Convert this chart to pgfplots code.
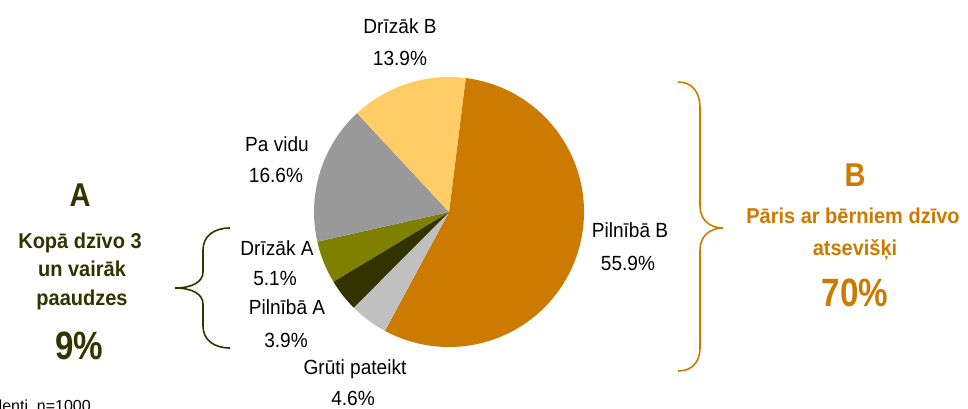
\documentclass[border=0pt]{standalone}
\usepackage{pgfplots}
\pgfplotsset{compat=1.18}
\usepackage{pgfplotstable}
\usepackage{fontspec}
\setmainfont{Liberation Sans}
\usepackage{graphicx}

\definecolor{cPB}{HTML}{CC7A00}
\definecolor{cGP}{HTML}{C0C0C0}
\definecolor{cPA}{HTML}{333300}
\definecolor{cDA}{HTML}{808000}
\definecolor{cPV}{HTML}{999999}
\definecolor{cDB}{HTML}{FFCC66}

% slices clockwise from the top, starting angle 82.9 deg
\pgfplotstableread{
value color
55.9 cPB
4.6 cGP
3.9 cPA
5.1 cDA
16.6 cPV
13.9 cDB
}\piedata

\newcommand\txreg[1]{\scalebox{0.93}[1]{\fontsize{20.5}{24}\selectfont #1}}
\newcommand\txbld[1]{\scalebox{0.93}[1]{\fontsize{21.5}{25}\selectfont\bfseries #1}}
\newcommand\txbig[1]{\scalebox{0.88}[1]{\fontsize{33}{38}\selectfont\bfseries #1}}
\newcommand\txhuge[1]{\scalebox{0.84}[1]{\fontsize{39.5}{45}\selectfont\bfseries #1}}

\begin{document}
\begin{tikzpicture}
\path[use as bounding box] (0,0) rectangle (968pt,408pt);
\begin{axis}[at={(0,0)}, anchor=south west, scale only axis,
  width=968pt, height=408pt, xmin=0, xmax=968, ymin=0, ymax=408,
  hide axis, clip=false]
\def\curangle{82.9}
\pgfplotsforeachungrouped \i in {0,...,5}{%
  \pgfplotstablegetelem{\i}{value}\of\piedata \let\val\pgfplotsretval
  \pgfplotstablegetelem{\i}{color}\of\piedata \let\col\pgfplotsretval
  \pgfmathsetmacro\endangle{\curangle-3.6*\val}%
  \edef\temp{\noexpand\fill[\col] (axis cs:449,196) -- ++(\curangle:135pt) arc[start angle=\curangle, end angle=\endangle, radius=135pt] -- cycle;}%
  \temp
  \global\let\curangle\endangle
}

% slice labels
\node[anchor=base, inner sep=0] at (axis cs:400,374.5) {\txreg{Drīzāk B}};
\node[anchor=base, inner sep=0] at (axis cs:400,342) {\txreg{13.9\%}};
\node[anchor=base, inner sep=0] at (axis cs:277,256.5) {\txreg{Pa vidu}};
\node[anchor=base, inner sep=0] at (axis cs:276,225.5) {\txreg{16.6\%}};
\node[anchor=base, inner sep=0] at (axis cs:277,153) {\txreg{Drīzāk A}};
\node[anchor=base, inner sep=0] at (axis cs:275,123) {\txreg{5.1\%}};
\node[anchor=base, inner sep=0] at (axis cs:287,93.7) {\txreg{Pilnībā A}};
\node[anchor=base, inner sep=0] at (axis cs:286,60.3) {\txreg{3.9\%}};
\node[anchor=base, inner sep=0] at (axis cs:355,34) {\txreg{Grūti pateikt}};
\node[anchor=base, inner sep=0] at (axis cs:353,3) {\txreg{4.6\%}};
\node[anchor=base, inner sep=0] at (axis cs:630,170.3) {\txreg{Pilnībā B}};
\node[anchor=base, inner sep=0] at (axis cs:628,138) {\txreg{55.9\%}};

% group A
\node[anchor=base, inner sep=0, text=cPA] at (axis cs:80,201.3) {\txbig{A}};
\node[anchor=base, inner sep=0, text=cPA] at (axis cs:80,160) {\txbld{Kopā dzīvo 3}};
\node[anchor=base, inner sep=0, text=cPA] at (axis cs:82,131.3) {\txbld{un vairāk}};
\node[anchor=base, inner sep=0, text=cPA] at (axis cs:82,102.3) {\txbld{paaudzes}};
\node[anchor=base, inner sep=0, text=cPA] at (axis cs:79,49) {\txhuge{9\%}};
\draw[cPA, line width=1.6pt] (axis cs:230,180) .. controls (axis cs:214,180) and (axis cs:203,172) .. (axis cs:203,158)
  -- (axis cs:203,136) .. controls (axis cs:203,126) and (axis cs:192,120) .. (axis cs:175,120)
  .. controls (axis cs:192,120) and (axis cs:203,114) .. (axis cs:203,104)
  -- (axis cs:203,82) .. controls (axis cs:203,68) and (axis cs:214,60) .. (axis cs:230,60);

% group B
\node[anchor=base, inner sep=0, text=cPB] at (axis cs:855,221.3) {\txbig{B}};
\node[anchor=base, inner sep=0, text=cPB] at (axis cs:853,184.7) {\txbld{Pāris ar bērniem dzīvo}};
\node[anchor=base, inner sep=0, text=cPB] at (axis cs:855,153) {\txbld{atsevišķi}};
\node[anchor=base, inner sep=0, text=cPB] at (axis cs:855,102) {\txhuge{70\%}};
\draw[cPB, line width=1.6pt] (axis cs:678,326) .. controls (axis cs:692,326) and (axis cs:700,316) .. (axis cs:700,300)
  -- (axis cs:700,202) .. controls (axis cs:700,188) and (axis cs:710,180) .. (axis cs:723,180)
  .. controls (axis cs:710,180) and (axis cs:700,172) .. (axis cs:700,158)
  -- (axis cs:700,60) .. controls (axis cs:700,46) and (axis cs:692,37) .. (axis cs:678,37);

% footnote, cut by the lower edge
\node[anchor=base east, inner sep=0] at (axis cs:91,-3.5) {\fontsize{16}{19}\selectfont respondenti, n=1000};
\end{axis}
\end{tikzpicture}
\end{document}
